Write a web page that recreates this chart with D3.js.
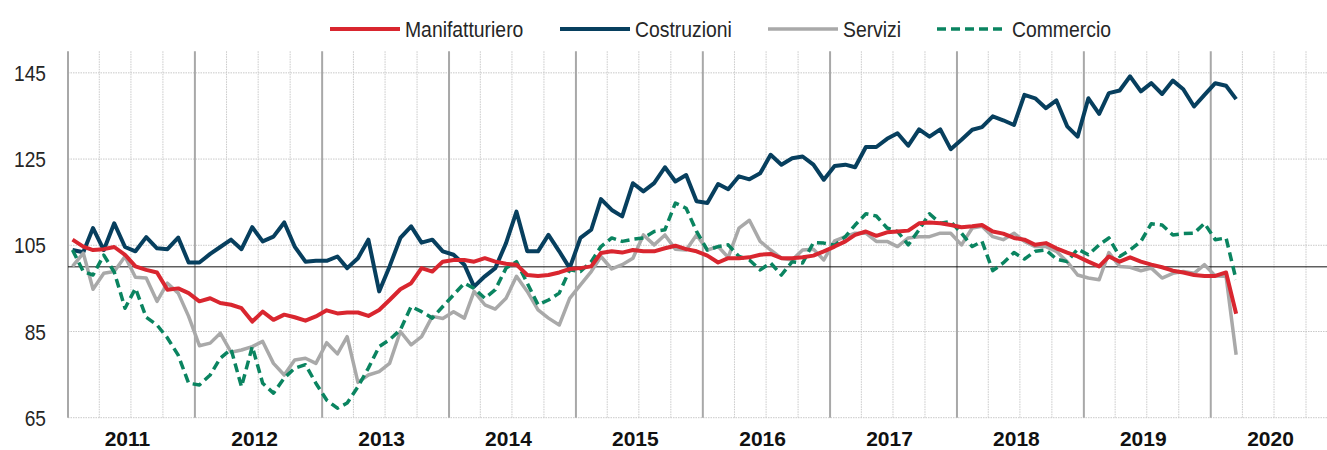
<!DOCTYPE html>
<html>
<head>
<meta charset="utf-8">
<script src="https://cdn.jsdelivr.net/npm/d3@7"></script>
<style>
  html, body { margin: 0; padding: 0; background: #fff; }
  svg { display: block; }
  text { font-family: "Liberation Sans", Arial, Helvetica, sans-serif; }
</style>
</head>
<body>
<svg id="chart" width="1327" height="450"></svg>
<script>
// ---- DATA (monthly, Jan 2011 - Mar 2020) ----
const startMonth = new Date(2011, 0, 1);
const endMonth = new Date(2020, 3, 1);
const seriesNames = ["Manifatturiero", "Costruzioni", "Servizi", "Commercio"];
const yearLabels = ["2011","2012","2013","2014","2015","2016","2017","2018","2019","2020"];
const yTicks = [65, 85, 105, 125, 145];
const baseline = 100;

const manifatturiero = [
  106.3,104.7,103.9,104.1,104.6,102.8,100.1,99.3,98.7,94.7,95,93.9,
  92,92.7,91.6,91.2,90.4,87.3,89.6,87.7,88.9,88.3,87.5,88.5,
  89.9,89.2,89.4,89.4,88.6,90,92.3,94.8,96.2,99.7,98.9,101.2,
  101.6,101.6,101.2,102,101.2,100.7,100.5,98.1,97.9,98.1,98.7,99.5,
  99.7,100.1,103.2,103.6,103.3,103.9,103.6,103.6,104.3,104.9,104.1,103.6,
  102.6,101,102,102,102.2,102.8,103,102,102,102.2,102.6,103.6,
  104.7,105.9,107.4,108.2,107.2,108,108.2,108.4,110.1,110.3,110.1,109.7,
  109.2,109.4,109.7,108.2,107.7,106.7,106.3,105.1,105.5,104.3,103.3,102.4,
  101.2,100.1,102.4,101.2,102.2,101.2,100.5,99.9,99.1,98.7,98.1,97.9,
  97.9,98.7,89.1
];
const costruzioni = [
  103.9,103.4,109,103.9,110.1,104.6,103.6,106.9,104.3,104.1,106.8,101,
  101,103,104.6,106.3,104.1,109.2,105.9,107,110.3,104.7,101.2,101.4,
  101.4,102.4,99.7,102,106.3,94.3,100.1,106.7,109.4,105.6,106.3,103.6,
  102.8,100.5,95.4,97.8,99.7,105.5,112.8,103.6,103.6,107.4,103.6,99.7,
  106.7,108.6,115.7,113.2,111.7,119.4,117.5,119.4,123.1,119.8,121.3,115.2,
  114.8,119.2,118,121,120.3,121.7,126,123.7,125.2,125.6,123.7,120.2,
  123.4,123.7,123.1,127.8,127.8,129.7,131,128.1,131.9,130.2,131.9,127.3,
  129.5,131.8,132.4,134.9,134,132.9,139.9,139.1,136.8,138.6,132.6,130.2,
  139.1,135.5,140.3,140.9,144.2,140.7,142.6,140.1,143.2,141.2,137.2,139.9,
  142.6,142,138.9
];
const servizi = [
  100.1,103.2,94.8,98.5,98.9,102.4,97.6,97.4,92,96.2,93.9,88.5,
  81.7,82.3,84.6,80.2,80.7,81.5,82.7,77.6,74.9,78.4,78.8,77.6,
  82.4,79.8,83.8,73.2,74.9,75.7,77.6,85,81.9,83.8,88.5,88,
  89.6,88.1,94.3,91.2,90.2,92.7,97.8,94.3,90,88.1,86.5,92.7,
  95.8,98.9,102.4,99.5,100.5,102,107.4,105.1,107.4,104.1,103.9,107.4,
  103.9,104.7,102.2,109,110.8,105.9,103.9,102,101.6,103.9,104.1,101.6,
  106,107,107.8,107.8,105.9,105.9,104.7,106.7,107,107,107.8,107.8,
  105.1,109,109.4,107,106.3,107.8,105.9,104.7,104.7,103.6,101.2,98.1,
  97.4,97,103.3,100.1,99.9,99.1,99.7,97.4,98.5,98.9,98.5,100.5,
  97.9,97.8,79.6
];
const commercio = [
  103.9,98.9,98.1,102.7,98.8,90.4,95,88.3,86.5,83.5,79.5,73,
  72.6,74.9,78.8,80.9,72.2,81.5,73,70.7,74.2,76.5,77.3,73,
  69.1,67.2,68.4,72.2,76.5,81.5,83.1,85.4,90.8,89.6,88.1,90.8,
  93.5,96.2,95,92.7,94.7,99.7,101.2,96.2,91.2,92.3,93.9,99.3,
  98.9,101.2,104.7,106.7,105.9,106.4,106.7,108.2,108.6,114.8,113.6,108.2,
  103.9,104.7,105.1,102.4,101.6,99.3,100.9,98.1,101.2,100.9,105.6,105.5,
  105,107,109.7,112.3,111.8,109,108.2,105.1,108.6,112.3,110.1,110.5,
  107.8,104.7,105.9,99.1,100.9,103.3,101.8,103.6,103.9,101.8,101.2,104.1,
  102.8,105.1,106.7,102.4,103.9,105.9,110,109.7,107.4,107.7,107.8,110.1,
  106.3,106.7,97
];

// ---- STYLES ----
const colors = ["#d9262f", "#073f5e", "#a9a9a9", "#0a8460"];
const widths = [4, 4, 3.5, 3.5];
const dashes = [null, null, null, "9,5"];

const months = d3.timeMonths(startMonth, endMonth);
const allSeries = [manifatturiero, costruzioni, servizi, commercio];

const svg = d3.select("#chart");
const x = d3.scaleTime()
  .domain([new Date(2011, 0, 1), new Date(2021, 0, 1)])
  .range([68, 1338]);
const y = d3.scaleLinear().domain([65, 150]).range([417.7, 51.3]);

const yTop = y(150), yBottom = y(65);

// grid: horizontal dotted
svg.append("g").selectAll("line").data(yTicks).join("line")
  .attr("x1", 68).attr("x2", 1338)
  .attr("y1", d => y(d)).attr("y2", d => y(d))
  .attr("stroke", "#c9c9c9").attr("stroke-width", 1)
  .attr("stroke-dasharray", "1.5,1");

// grid: vertical quarterly dotted
const quarters = d3.timeMonths(new Date(2011, 0, 1), new Date(2021, 0, 1), 3)
  .filter(d => d.getMonth() !== 0);
svg.append("g").selectAll("line").data(quarters).join("line")
  .attr("x1", d => x(d)).attr("x2", d => x(d))
  .attr("y1", yTop).attr("y2", yBottom)
  .attr("stroke", "#c9c9c9").attr("stroke-width", 1)
  .attr("stroke-dasharray", "1.5,1");

// grid: year solid lines
const years = d3.timeYears(new Date(2011, 0, 1), new Date(2021, 0, 1));
svg.append("g").selectAll("line").data(years).join("line")
  .attr("x1", d => x(d)).attr("x2", d => x(d))
  .attr("y1", yTop).attr("y2", yBottom)
  .attr("stroke", "#a8a8a8").attr("stroke-width", 2);

// baseline 100
svg.append("line")
  .attr("x1", 68).attr("x2", 1338)
  .attr("y1", y(baseline)).attr("y2", y(baseline))
  .attr("stroke", "#111").attr("stroke-width", 1);

// y axis
const yAxis = svg.append("g").attr("transform", "translate(68,0)")
  .call(d3.axisLeft(y).tickValues(yTicks).tickSize(0).tickFormat(d3.format("d")));
yAxis.select(".domain").remove();
yAxis.selectAll("text")
  .attr("x", 0).attr("dy", "0.35em")
  .attr("transform", "translate(-22,0) scale(0.87,1)")
  .attr("text-anchor", "end")
  .style("font-size", "22px").style("fill", "#262626")
  .style("font-family", "'Liberation Sans', Arial, sans-serif");

// x axis (year labels, centered within each year)
const yearMid = yearLabels.map(s => new Date(+s, 6, 1));
const xAxis = svg.append("g").attr("transform", "translate(-4,446)")
  .call(d3.axisBottom(x).tickValues(yearMid).tickSize(0).tickFormat(d3.timeFormat("%Y")));
xAxis.select(".domain").remove();
xAxis.selectAll("text")
  .attr("y", 0).attr("dy", 0)
  .style("font-size", "21px").style("font-weight", "bold").style("fill", "#111")
  .style("font-family", "'Liberation Sans', Arial, sans-serif");

// lines
const line = d3.line()
  .x((d, i) => x(d3.timeDay.offset(months[i], 13)))
  .y(d => y(d));

// draw order: costruzioni, servizi, commercio, manifatturiero
[1, 2, 3, 0].forEach(k => {
  svg.append("path")
    .datum(allSeries[k])
    .attr("fill", "none")
    .attr("stroke", colors[k])
    .attr("stroke-width", widths[k])
    .attr("stroke-linejoin", "round")
    .attr("stroke-dasharray", dashes[k])
    .attr("d", line);
});

// legend
const legendX = [330, 560, 768, 937];
const legend = svg.append("g");
seriesNames.forEach((name, k) => {
  const g = legend.append("g").attr("transform", `translate(${legendX[k]},29)`);
  g.append("line").attr("x1", 0).attr("x2", 70).attr("y1", 0).attr("y2", 0)
    .attr("stroke", colors[k]).attr("stroke-width", widths[k])
    .attr("stroke-dasharray", dashes[k]);
  g.append("text").attr("transform", "translate(75,8) scale(0.88,1)")
    .style("font-size", "22px").style("fill", "#262626")
    .text(name);
});
</script>
</body>
</html>
